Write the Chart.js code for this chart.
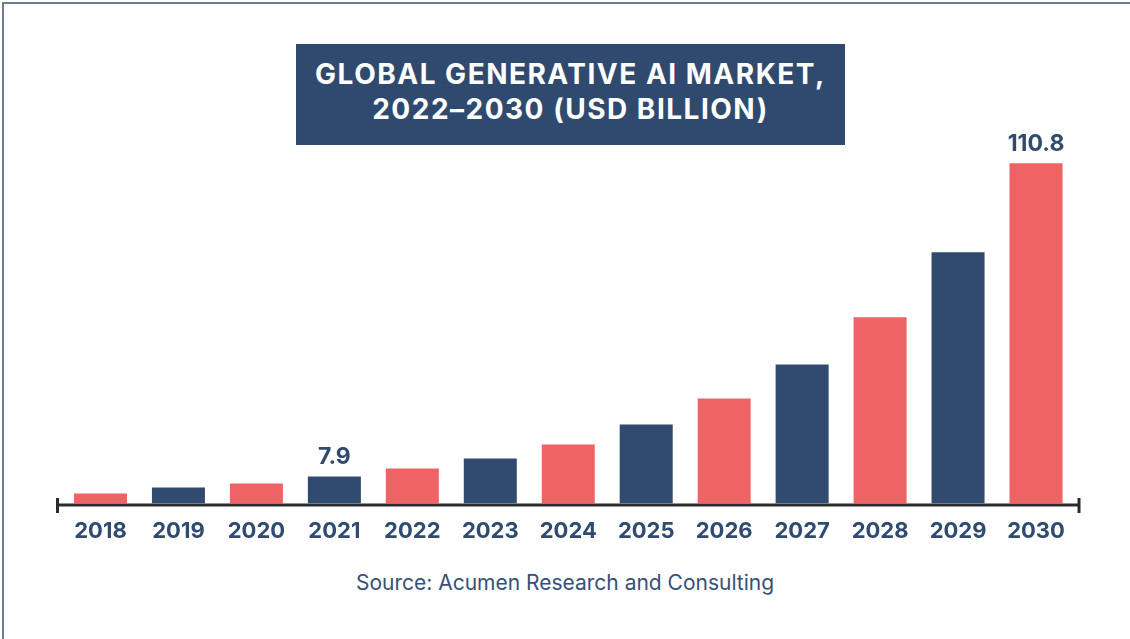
<!DOCTYPE html>
<html>
<head>
<meta charset="utf-8">
<script src="https://cdn.jsdelivr.net/npm/chart.js@4.4.1/dist/chart.umd.min.js"></script>
<style>
  body { margin: 0; background: #fff; }
  #page { position: relative; width: 1130px; height: 639px; overflow: hidden; background: #fff; }
  #frame { position: absolute; left: 2px; top: 2px; right: -5px; bottom: -5px;
           border-top: 2px solid #6c7c94; border-left: 2px solid #6c7c94; }
  #title { position: absolute; left: 296px; top: 44px; width: 549px; height: 101px;
           background: #2f4a6e; color: #fff; text-align: center;
           font-family: Inter, sans-serif; font-weight: 700; font-size: 28px;
           letter-spacing: 1.5px; line-height: 35px; box-sizing: border-box; padding-top: 13px; }
  #source { position: absolute; left: 0; width: 1130px; top: 570px; text-align: center;
            font-family: Inter, sans-serif; font-size: 21px; color: #36507a; }
  #wrap { position: absolute; left: 0; top: 0; width: 1130px; height: 552px; }
</style>
</head>
<body>
<div id="page">
  <div id="frame"></div>
  <div id="wrap"><canvas id="barChart"></canvas></div>
  <div id="title">GLOBAL GENERATIVE AI MARKET,<br>2022–2030 (USD BILLION)</div>
  <div id="source">Source: Acumen Research and Consulting</div>
</div>
<script>
// values (USD billion)
const years = ['2018', '2019', '2020', '2021', '2022', '2023', '2024', '2025', '2026', '2027', '2028', '2029', '2030'];
const marketSize = [2.3, 4.3, 5.6, 7.9, 10.5, 13.8, 18.4, 25.0, 33.5, 44.7, 60.2, 81.5, 110.8];
const labelledYears = ['2021', '2030'];

const navy = '#304b6f';
const coral = '#f06365';

// alternating coral / navy bars
const barColors = years.map((y, i) => (i % 2 === 0 ? coral : navy));

// axis line with end ticks, a touch wider than the bars
const axisLine = {
  id: 'axisLine',
  afterDatasetsDraw(chart) {
    const { ctx, chartArea } = chart;
    const y = chart.scales.y.getPixelForValue(-1) + 1.5;
    const x0 = chartArea.left - 4;
    const x1 = chartArea.right + 4;
    ctx.save();
    ctx.strokeStyle = '#2b2b2b';
    ctx.lineWidth = 3;
    ctx.beginPath();
    ctx.moveTo(x0, y);
    ctx.lineTo(x1, y);
    ctx.stroke();
    ctx.beginPath();
    ctx.moveTo(x0, y - 7);
    ctx.lineTo(x0, y + 8);
    ctx.moveTo(x1, y - 7);
    ctx.lineTo(x1, y + 8);
    ctx.stroke();
    ctx.restore();
  }
};

// value labels only above the first and last highlighted bars
const valueLabels = {
  id: 'valueLabels',
  afterDatasetsDraw(chart) {
    const { ctx } = chart;
    const meta = chart.getDatasetMeta(0);
    ctx.save();
    ctx.fillStyle = navy;
    ctx.font = '700 23px Inter, sans-serif';
    ctx.textAlign = 'center';
    ctx.textBaseline = 'bottom';
    meta.data.forEach((bar, i) => {
      if (!labelledYears.includes(years[i])) return;
      ctx.fillText(marketSize[i].toFixed(1), bar.x, bar.y - 8);
    });
    ctx.restore();
  }
};

new Chart(document.getElementById('barChart'), {
  type: 'bar',
  data: {
    labels: years,
    datasets: [{
      data: marketSize,
      base: -1,
      backgroundColor: barColors,
      barPercentage: 0.68,
      categoryPercentage: 1.0
    }]
  },
  options: {
    responsive: true,
    maintainAspectRatio: false,
    animation: false,
    layout: { padding: { left: 61.5, right: 55, top: 133, bottom: 0 } },
    plugins: {
      legend: { display: false },
      tooltip: { enabled: false }
    },
    scales: {
      x: {
        grid: { display: false },
        border: { display: false },
        ticks: {
          color: navy,
          padding: 7,
          font: { family: 'Inter, sans-serif', weight: '700', size: 22 }
        }
      },
      y: {
        display: false,
        min: -1,
        max: 120.7
      }
    }
  },
  plugins: [axisLine, valueLabels]
});
</script>
</body>
</html>
